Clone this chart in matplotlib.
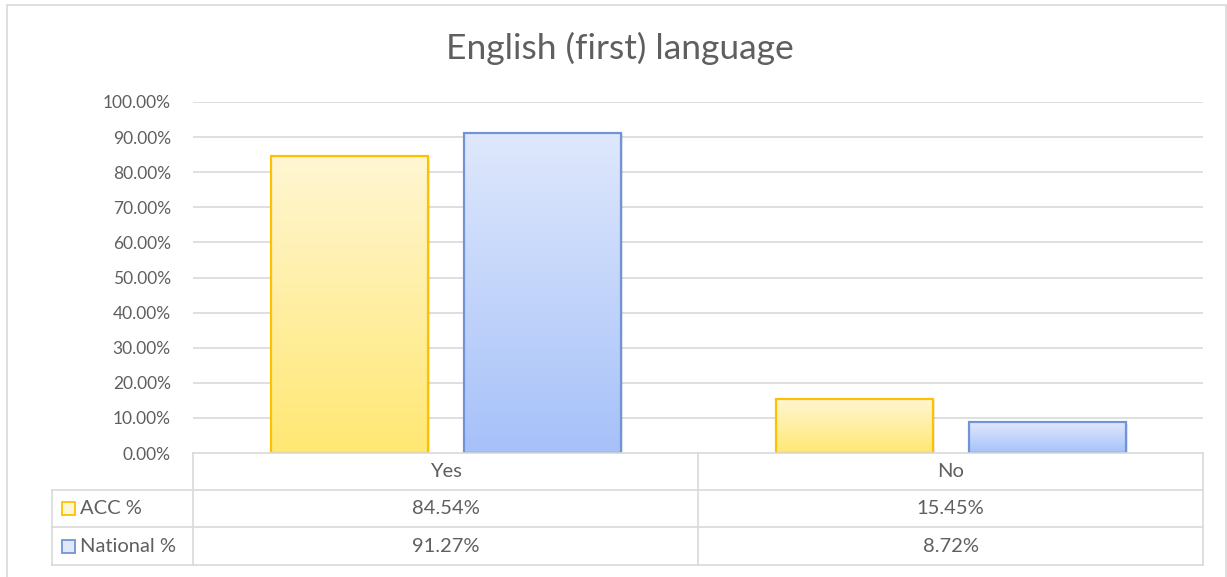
import numpy as np
import matplotlib
matplotlib.use("Agg")
import matplotlib.pyplot as plt
from matplotlib.colors import LinearSegmentedColormap
from matplotlib.patches import Rectangle
from matplotlib.lines import Line2D

# ---- data ----
categories = ["Yes", "No"]
series_names = ["ACC %", "National %"]
acc_vals = [84.54, 15.45]
national_vals = [91.27, 8.72]
yticks = [0, 10, 20, 30, 40, 50, 60, 70, 80, 90, 100]

W, H = 1227, 577
GRAY_TXT = "#5F5F5F"
GRID = "#D9D9D9"
plt.rcParams["font.family"] = ["Lato", "DejaVu Sans"]

styles = [
    dict(top="#FFF6D3", bottom="#FFE873", edge="#FFC000"),
    dict(top="#DFE8FC", bottom="#A6C1F9", edge="#7094D6"),
]


def px(x, y):
    """pixel (from top-left) -> figure fraction"""
    return x / W, 1 - y / H


fig = plt.figure(figsize=(W / 100, H / 100), dpi=100)

# plot area in pixels
L, R, T, B = 193, 1203, 102, 453
ax = fig.add_axes([L / W, 1 - B / H, (R - L) / W, (B - T) / H])
ax.set_xlim(-0.5, 1.5)
ax.set_ylim(0, 100)
for s in ax.spines.values():
    s.set_visible(False)
ax.set_xticks([])
ax.set_yticks(yticks)
ax.set_yticklabels([f"{v:.2f}%" for v in yticks], fontsize=12.5, color=GRAY_TXT)
ax.tick_params(axis="y", length=0, pad=16)
for v in yticks[1:]:
    ax.axhline(v, color=GRID, lw=1.2, zorder=0)

x = np.arange(len(categories))
width = 157 / 505
offset = 96.5 / 505
grad = np.linspace(1, 0, 256).reshape(-1, 1)

for i, vals in enumerate([acc_vals, national_vals]):
    st = styles[i]
    cmap = LinearSegmentedColormap.from_list(f"g{i}", [st["bottom"], st["top"]])
    xs = x + (offset if i else -offset)
    for xc, v in zip(xs, vals):
        # soft shadow
        ax.add_patch(Rectangle((xc - width / 2 + 0.004, 0), width, v - 0.4,
                               facecolor="#000000", alpha=0.08, lw=0, zorder=1))
        ax.imshow(grad, cmap=cmap, aspect="auto", zorder=2,
                  extent=[xc - width / 2, xc + width / 2, 0, v], vmin=0, vmax=1)
    ax.bar(xs, vals, width=width, fill=False, edgecolor=st["edge"], lw=1.6, zorder=3)

ax.set_xlim(-0.5, 1.5)
ax.set_ylim(0, 100)

# title
fig.text(*px(620, 48), "English (first) language", fontsize=25.5, color=GRAY_TXT,
         ha="center", va="center")

# outer chart border
fig.add_artist(Rectangle(px(7, 600), (1225.5 - 7) / W, (600 - 5) / H,
                         transform=fig.transFigure, fill=False,
                         edgecolor=GRID, lw=1.2))

# data table
col_x = [L, (L + R) / 2, R]
rows_y = [453, 490, 527, 565]
lc = "#D9D9D9"


def hline(x0, x1, y):
    fig.add_artist(Line2D([x0 / W, x1 / W], [1 - y / H, 1 - y / H],
                          transform=fig.transFigure, color=lc, lw=1.2))


def vline(xx, y0, y1):
    fig.add_artist(Line2D([xx / W, xx / W], [1 - y0 / H, 1 - y1 / H],
                          transform=fig.transFigure, color=lc, lw=1.2))


hline(L, R, rows_y[0])
for yy in rows_y[1:]:
    hline(52, R, yy)
for xx in col_x:
    vline(xx, rows_y[0], rows_y[3])
vline(52, rows_y[1], rows_y[3])

TFS = 14.5
for j, cat in enumerate(categories):
    cx = (col_x[j] + col_x[j + 1]) / 2
    fig.text(*px(cx, 471.5), cat, fontsize=TFS, color=GRAY_TXT, ha="center", va="center")
    for i, vals in enumerate([acc_vals, national_vals]):
        cy = (rows_y[i + 1] + rows_y[i + 2]) / 2
        fig.text(*px(cx, cy), f"{vals[j]:.2f}%", fontsize=TFS, color=GRAY_TXT,
                 ha="center", va="center")

for i, name in enumerate(series_names):
    st = styles[i]
    cy = (rows_y[i + 1] + rows_y[i + 2]) / 2
    kx, ky = px(62, cy + 6.5)
    fig.add_artist(Rectangle((kx, ky), 13 / W, 13 / H, transform=fig.transFigure,
                             facecolor=st["top"], edgecolor=st["edge"], lw=1.3))
    fig.text(*px(80, cy), name, fontsize=TFS, color=GRAY_TXT, ha="left", va="center")

fig.savefig("out.png", dpi=100)
